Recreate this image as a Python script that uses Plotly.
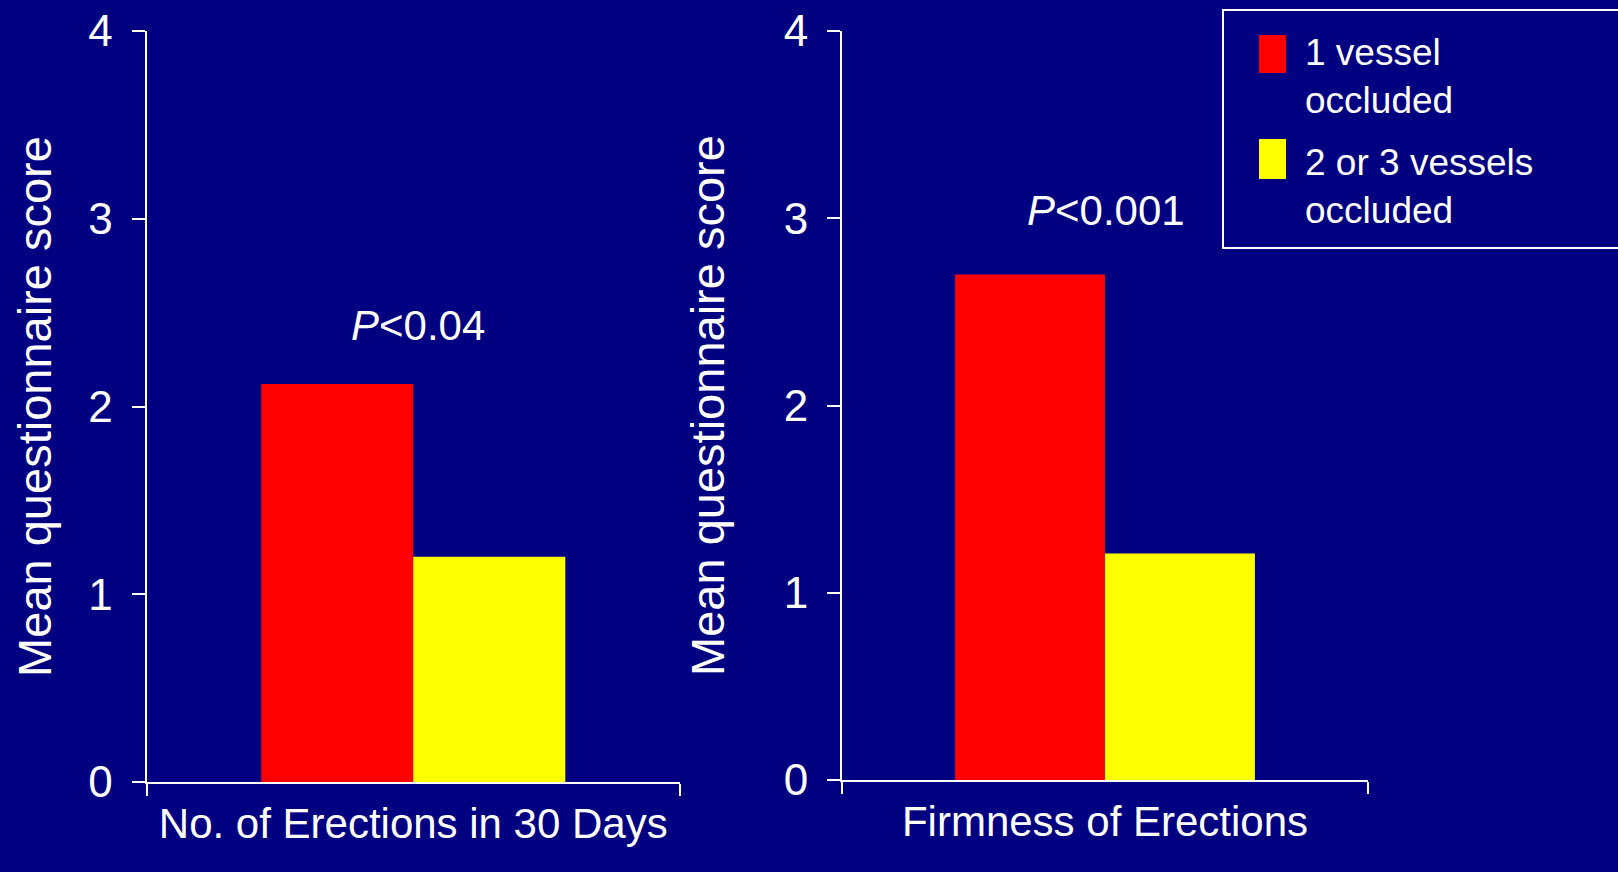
import plotly.graph_objects as go

# ---- data ----
categories = ["No. of Erections in 30 Days", "Firmness of Erections"]
series_names = ["1 vessel<br>occluded", "2 or 3 vessels<br>occluded"]
one_vessel = [2.12, 2.70]
two_three_vessels = [1.20, 1.21]
p_labels = ["<i>P</i>&lt;0.04", "<i>P</i>&lt;0.001"]
y_ticks = [0, 1, 2, 3, 4]
y_title = "Mean questionnaire score"

RED = "#FF0000"
YELLOW = "#FFFF00"
BG = "#000080"
FONT = "Liberation Sans, Arial, sans-serif"

fig = go.Figure()
axes = [("x", "y"), ("x2", "y2")]
for i, (xa, ya) in enumerate(axes):
    fig.add_trace(go.Bar(x=[categories[i]], y=[one_vessel[i]], name="1 vessel occluded",
                         marker=dict(color=RED, line=dict(width=0)), xaxis=xa, yaxis=ya,
                         showlegend=False))
    fig.add_trace(go.Bar(x=[categories[i]], y=[two_three_vessels[i]], name="2 or 3 vessels occluded",
                         marker=dict(color=YELLOW, line=dict(width=0)), xaxis=xa, yaxis=ya,
                         showlegend=False))

W, H = 1618, 872

def xaxis_cfg(domain):
    return dict(domain=domain, type="category", range=[-0.5, 0.5], tickson="boundaries",
                ticks="outside", ticklen=12, tickwidth=2, tickcolor="white", tickangle=0,
                showline=True, linecolor="white", linewidth=2, showgrid=False, zeroline=False,
                tickfont=dict(size=42, color="white", family=FONT), automargin=False,
                ticklabelstandoff=4, fixedrange=True)

def yaxis_cfg(domain, standoff):
    return dict(domain=domain, range=[0, 4], tickvals=y_ticks, ticks="outside", ticklen=13,
                tickwidth=2, tickcolor="white", showline=True, linecolor="white", linewidth=2,
                showgrid=False, zeroline=False,
                tickfont=dict(size=44, color="white", family=FONT), ticklabelstandoff=10,
                title=dict(text=y_title, font=dict(size=47, color="white", family=FONT),
                           standoff=standoff),
                automargin=False, fixedrange=True)

fig.update_layout(
    width=W, height=H,
    margin=dict(l=0, r=0, t=0, b=0),
    paper_bgcolor=BG, plot_bgcolor=BG,
    barmode="group", bargap=0.43, bargroupgap=0,
    font=dict(family=FONT, color="white"),
    xaxis=dict(anchor="y", **xaxis_cfg([146.5 / W, 680 / W])),
    yaxis=dict(anchor="x", **yaxis_cfg([(H - 782) / H, (H - 31) / H], 22)),
    xaxis2=dict(anchor="y2", **xaxis_cfg([842 / W, 1368 / W])),
    yaxis2=dict(anchor="x2", **yaxis_cfg([(H - 780) / H, (H - 31) / H], 44)),
    showlegend=False,
)

# P-value annotations
fig.add_annotation(text=p_labels[0], xref="paper", yref="y", x=418 / W, y=2.43,
                   showarrow=False, font=dict(size=42, color="white", family=FONT),
                   xanchor="center", yanchor="middle")
fig.add_annotation(text=p_labels[1], xref="paper", yref="y2", x=1106 / W, y=3.04,
                   showarrow=False, font=dict(size=42, color="white", family=FONT),
                   xanchor="center", yanchor="middle")

# Legend box (drawn manually to match the large swatches)
fig.add_shape(type="rect", xref="paper", yref="paper", x0=1223 / W, x1=1.02,
              y0=1 - 248 / H, y1=1 - 10 / H, line=dict(color="white", width=2),
              fillcolor="rgba(0,0,0,0)", layer="above")
swatches = [(RED, 35, 73, 76), (YELLOW, 139, 179, 186.5)]
for (col, top, bot, mid), name in zip(swatches, series_names):
    fig.add_shape(type="rect", xref="paper", yref="paper", x0=1259 / W, x1=1286 / W,
                  y0=1 - bot / H, y1=1 - top / H, line=dict(width=0), fillcolor=col)
    fig.add_annotation(text=name, xref="paper", yref="paper", x=1303 / W, y=1 - mid / H,
                       showarrow=False, align="left", xanchor="left", yanchor="middle",
                       font=dict(size=37, color="white", family=FONT))

fig.write_html("out.html", config={"displayModeBar": False})
